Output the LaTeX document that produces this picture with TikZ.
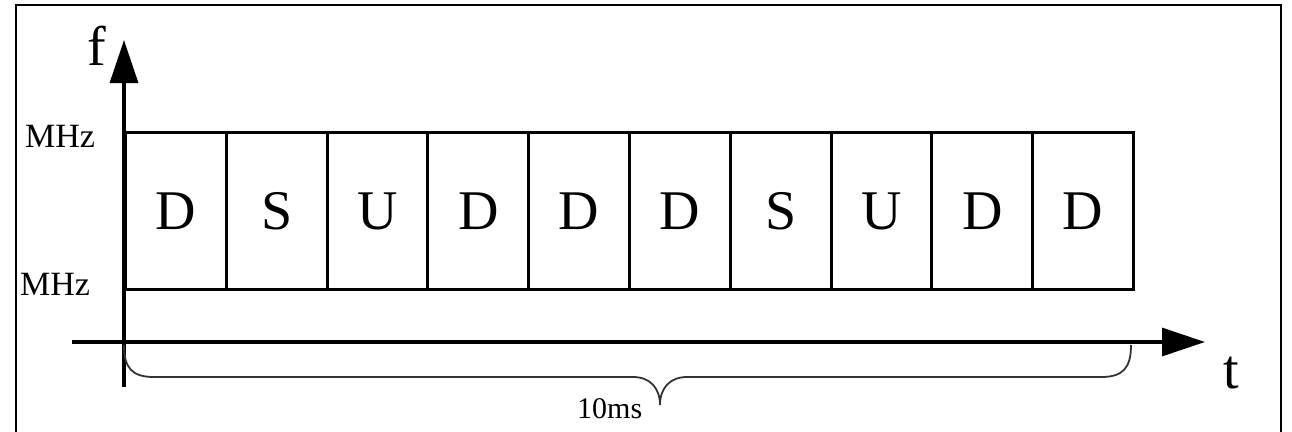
\documentclass[tikz,border=0pt]{standalone}
\usepackage{fontspec}
\setmainfont{Liberation Serif}
\usetikzlibrary{arrows.meta}
\begin{document}
\begin{tikzpicture}[x=1pt, y=-1pt, line join=miter, >={Triangle[length=43pt,width=28pt]}]
	\tikzset{cell/.style={draw, line width=3pt, minimum width=100.8pt, minimum height=157pt, inner sep=0pt, anchor=north west, font=\fontsize{56}{60}\selectfont},
		axis/.style={line width=3.2pt},
		lbl/.style={inner sep=0pt, font=\fontsize{34}{36}\selectfont},
		brace/.style={line width=1.8pt, black!80}}
	\def \xo{124}
	\def \yo{342}
	\def \ytop{131}
	\useasboundingbox (0,0) rectangle (1292,431);
	\draw[line width=2.5pt] (16,432)--(16,5)--(1281,5)--(1281,432);
	% cells
	\foreach \l [count=\i from 0] in {D,S,U,D,D,D,S,U,D,D}
		{\node[cell] (c\i) at ({\xo+\i*100.8},\ytop) {\l};}
	% axes
	\coordinate (ybot) at (\xo,387);
	\coordinate (ytip) at (\xo,40);
	\coordinate (xbeg) at (72,\yo);
	\coordinate (xtip) at (1205,\yo);
	\draw[axis,->] (ybot)--(ytip);
	\draw[axis,->] (xbeg)--(xtip);
	\node[lbl, anchor=base, font=\fontsize{56}{60}\selectfont] (f) at (97,65) {f};
	\node[lbl, anchor=base, font=\fontsize{56}{60}\selectfont] (t) at (1231,388) {t};
	\node[lbl, anchor=base west] (fhi) at (25,147) {MHz};
	\node[lbl, anchor=base west] (flo) at (20,295) {MHz};
	% brace
	\coordinate (bl) at (\xo,345);
	\coordinate (br) at (1131,345);
	\coordinate (tip) at (660,405);
	\draw[brace] (bl) .. controls (\xo,368) and (132,377) .. (154,377) -- (633,377)
		.. controls (650,377) and (660,388) .. (tip)
		.. controls (660,388) and (670,377) .. (687,377) -- (1101,377)
		.. controls (1123,377) and (1131,368) .. (br);
	\node[lbl, anchor=base west, font=\fontsize{30}{32}\selectfont] (dur) at (577,418) {10ms};
\end{tikzpicture}
\end{document}
